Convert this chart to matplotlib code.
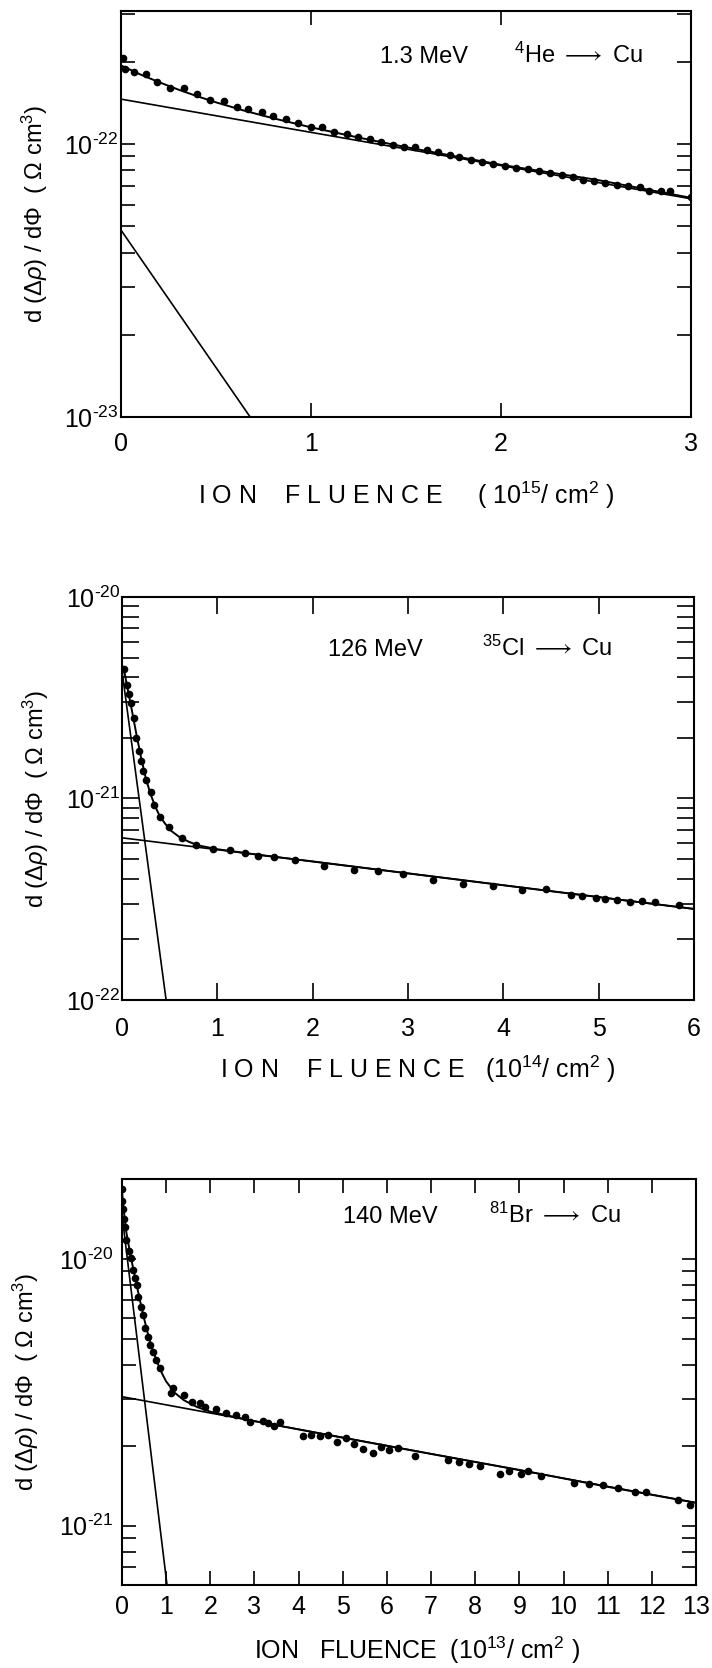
import math
import matplotlib
matplotlib.use("Agg")
import matplotlib.pyplot as plt
from matplotlib import font_manager
from matplotlib.ticker import FixedLocator, FuncFormatter, LogLocator, NullFormatter

# ---- panel 1: 1.3 MeV 4He -> Cu, fluence in 1e15 / cm^2, values in 1e-23 Ohm cm^3
HE_UNIT = 1e-23
he_x = [0.01, 0.02, 0.07, 0.13, 0.19, 0.26, 0.33, 0.40, 0.47, 0.54,
        0.61, 0.67, 0.74, 0.80, 0.87, 0.93, 1.00, 1.06, 1.12, 1.19,
        1.25, 1.31, 1.37, 1.43, 1.49, 1.55, 1.61, 1.67, 1.73, 1.78,
        1.84, 1.90, 1.96, 2.02, 2.08, 2.14, 2.20, 2.26, 2.32, 2.38,
        2.43, 2.49, 2.55, 2.61, 2.67, 2.73, 2.78, 2.84, 2.89, 3.00]
he_y = [20.6, 18.9, 18.4, 18.1, 16.9, 16.1, 16.0, 15.3, 14.5, 14.4,
        13.7, 13.4, 13.1, 12.7, 12.3, 11.9, 11.5, 11.5, 11.1, 10.9,
        10.6, 10.4, 10.2, 9.94, 9.78, 9.72, 9.53, 9.33, 9.15, 8.99,
        8.74, 8.57, 8.45, 8.28, 8.17, 8.11, 7.94, 7.81, 7.73, 7.55,
        7.38, 7.34, 7.18, 7.10, 7.04, 6.98, 6.71, 6.71, 6.71, 6.38]
he_fit_x = [0.0, 0.1, 0.2, 0.3, 0.4, 0.5, 0.65, 0.8, 1.0, 1.25, 1.5, 2.0, 2.5, 3.0]
he_fit_y = [19.4, 18.0, 16.85, 15.84, 14.97, 14.21, 13.24, 12.43, 11.51, 10.56, 9.74, 8.39, 7.40, 6.35]
he_slow_x = [0.0, 3.0]
he_slow_y = [14.6, 6.3]
he_fast_x = [0.0, 0.68]
he_fast_y = [4.84, 1.0]
he_decades = [1e-23, 1e-22]

# ---- panel 2: 126 MeV 35Cl -> Cu, fluence in 1e14 / cm^2, values in 1e-22 Ohm cm^3
CL_UNIT = 1e-22
cl_x = [0.02, 0.05, 0.07, 0.10, 0.13, 0.15, 0.18, 0.20, 0.22, 0.25,
        0.30, 0.34, 0.40, 0.49, 0.63, 0.78, 0.96, 1.13, 1.29, 1.43,
        1.59, 1.82, 2.12, 2.43, 2.69, 2.95, 3.26, 3.58, 3.89, 4.20,
        4.45, 4.71, 4.83, 4.97, 5.07, 5.19, 5.33, 5.45, 5.59, 5.84]
cl_y = [43.9, 36.6, 33.1, 29.7, 25.2, 19.9, 17.3, 15.4, 13.7, 12.4,
        10.8, 9.26, 8.07, 7.18, 6.34, 5.90, 5.61, 5.57, 5.36, 5.19,
        5.15, 4.94, 4.63, 4.40, 4.35, 4.20, 3.94, 3.76, 3.69, 3.52,
        3.55, 3.31, 3.28, 3.22, 3.18, 3.13, 3.05, 3.09, 3.05, 2.97]
cl_fit_x = [0.015, 0.05, 0.1, 0.15, 0.2, 0.25, 0.3, 0.35, 0.4, 0.5,
            0.6, 0.7, 0.8, 1.0, 1.5, 2.0, 3.0, 4.0, 5.0, 6.0]
cl_fit_y = [45.0, 37.0, 28.0, 21.0, 16.0, 12.6, 10.5, 9.1, 8.1, 7.0,
            6.45, 6.1, 5.85, 5.6, 5.2, 4.87, 4.25, 3.71, 3.24, 2.83]
cl_slow_x = [0.0, 6.0]
cl_slow_y = [6.38, 2.83]
cl_fast_x = [0.0, 0.463]
cl_fast_y = [43.1, 1.0]
cl_decades = [1e-22, 1e-21, 1e-20]

# ---- panel 3: 140 MeV 81Br -> Cu, fluence in 1e13 / cm^2, values in 1e-21 Ohm cm^3
BR_UNIT = 1e-21
br_x = [0.0, 0.0, 0.02, 0.05, 0.06, 0.10, 0.17, 0.21, 0.26, 0.30,
        0.33, 0.36, 0.42, 0.48, 0.53, 0.59, 0.64, 0.70, 0.78, 0.87,
        1.10, 1.16, 1.40, 1.59, 1.76, 1.89, 2.14, 2.36, 2.59, 2.78,
        2.91, 3.19, 3.31, 3.44, 3.59, 4.10, 4.29, 4.48, 4.67, 4.88,
        5.08, 5.25, 5.46, 5.69, 5.87, 6.04, 6.25, 6.63, 7.38, 7.64,
        7.85, 8.10, 8.57, 8.77, 9.03, 9.19, 9.50, 10.24, 10.58, 10.89,
        11.23, 11.61, 11.86, 12.59, 12.87]
br_y = [18.3, 16.6, 15.4, 14.2, 13.2, 11.8, 10.7, 10.1, 9.11, 8.48,
        8.01, 7.24, 6.64, 6.18, 5.51, 5.12, 4.77, 4.50, 4.19, 3.90,
        3.16, 3.28, 3.10, 2.92, 2.88, 2.79, 2.74, 2.64, 2.60, 2.57,
        2.46, 2.48, 2.43, 2.36, 2.45, 2.17, 2.19, 2.17, 2.20, 2.06,
        2.14, 2.03, 1.94, 1.87, 1.98, 1.93, 1.96, 1.83, 1.77, 1.74,
        1.71, 1.67, 1.57, 1.60, 1.57, 1.60, 1.54, 1.45, 1.44, 1.42,
        1.38, 1.34, 1.34, 1.25, 1.20]
br_fit_x = [0.0, 0.05, 0.1, 0.2, 0.3, 0.4, 0.5, 0.6, 0.7, 0.8, 0.9, 1.0,
            1.2, 1.4, 1.7, 2.0, 2.5, 3.0, 5.0, 7.0, 9.0, 11.0, 13.0]
br_fit_y = [18.0, 14.8, 12.6, 10.2, 8.5, 7.1, 6.0, 5.15, 4.55, 4.1, 3.75, 3.48,
            3.15, 2.96, 2.79, 2.68, 2.57, 2.47, 2.14, 1.86, 1.62, 1.40, 1.22]
br_slow_x = [0.0, 13.0]
br_slow_y = [3.05, 1.22]
br_fast_x = [0.0, 1.02]
br_fast_y = [14.7, 0.6]
br_decades = [1e-21, 1e-20]

# ---- fonts
names = {f.name for f in font_manager.fontManager.ttflist}
FAMILY = "Liberation Sans" if "Liberation Sans" in names else "DejaVu Sans"
plt.rcParams["font.family"] = [FAMILY, "DejaVu Sans"]
plt.rcParams["mathtext.fontset"] = "custom"
plt.rcParams["mathtext.rm"] = FAMILY
plt.rcParams["mathtext.it"] = FAMILY + ":italic"
plt.rcParams["mathtext.bf"] = FAMILY + ":bold"
plt.rcParams["mathtext.fallback"] = "stixsans"


def decade_label(value, pos):
    # short hyphen in the exponent, as on the original plot
    return "$10^{\u2010%d}$" % abs(round(math.log10(value)))


def draw_panel(ax, unit, xs, ys, fit_x, fit_y, slow_x, slow_y, fast_x, fast_y,
               decades, xmax, ylim, energy, reaction, text_pos, xlabel, xlabel_pos,
               ylabel_x, xpad, ypad, ticklen):
    scale = lambda vals: [v * unit for v in vals]
    ax.plot(slow_x, scale(slow_y), color="black", lw=1.2)
    ax.plot(fast_x, scale(fast_y), color="black", lw=1.2)
    ax.plot(fit_x, scale(fit_y), color="black", lw=1.4)
    ax.plot(xs, scale(ys), "o", color="black", ms=4.5, zorder=3)

    ax.set_yscale("log")
    ax.set_xlim(0, xmax)
    ax.set_ylim(*ylim)
    ax.set_xticks(range(0, xmax + 1))
    ax.yaxis.set_major_locator(FixedLocator(decades))
    ax.yaxis.set_minor_locator(LogLocator(base=10, subs=range(2, 10)))
    ax.yaxis.set_major_formatter(FuncFormatter(decade_label))
    ax.yaxis.set_minor_formatter(NullFormatter())

    ax.tick_params(which="both", direction="in", top=True, right=True,
                   width=1.2, length=ticklen)
    ax.tick_params(axis="x", labelsize=18, pad=xpad)
    ax.tick_params(axis="y", labelsize=18, pad=ypad)
    for spine in ax.spines.values():
        spine.set_linewidth(1.5)

    ax.text(text_pos[0], text_pos[2], energy, transform=ax.transAxes,
            fontsize=17, va="baseline")
    ax.text(text_pos[1], text_pos[2], reaction, transform=ax.transAxes,
            fontsize=17, va="baseline")

    ax.set_xlabel(xlabel, fontsize=18, va="center")
    ax.xaxis.set_label_coords(*xlabel_pos)
    ax.set_ylabel(r"d ($\Delta\rho$) / d$\Phi$  ( $\Omega$ cm$^3$)", fontsize=17,
                  va="center")
    ax.yaxis.set_label_coords(ylabel_x, 0.5)


fig = plt.figure(figsize=(7.12, 16.68), dpi=100)
ax1 = fig.add_axes([0.1699, 0.7500, 0.8006, 0.2434])
ax2 = fig.add_axes([0.1713, 0.4005, 0.8034, 0.2416])
ax3 = fig.add_axes([0.1713, 0.0498, 0.8062, 0.2434])

draw_panel(ax1, HE_UNIT, he_x, he_y, he_fit_x, he_fit_y, he_slow_x, he_slow_y,
           he_fast_x, he_fast_y, he_decades, 3, (1e-23, 3.07e-22),
           "1.3 MeV", r"$^{4}$He $\longrightarrow$ Cu", (0.455, 0.69, 0.872),
           r"I O N    F L U E N C E     ( 10$^{15}$/ cm$^{2}$ )", (0.5, -0.192),
           -0.151, 11, 2, 10)
draw_panel(ax2, CL_UNIT, cl_x, cl_y, cl_fit_x, cl_fit_y, cl_slow_x, cl_slow_y,
           cl_fast_x, cl_fast_y, cl_decades, 6, (1e-22, 1e-20),
           "126 MeV", r"$^{35}$Cl $\longrightarrow$ Cu", (0.36, 0.63, 0.854),
           r"I O N    F L U E N C E   (10$^{14}$/ cm$^{2}$ )", (0.517, -0.171),
           -0.151, 12, 1, 12)
draw_panel(ax3, BR_UNIT, br_x, br_y, br_fit_x, br_fit_y, br_slow_x, br_slow_y,
           br_fast_x, br_fast_y, br_decades, 13, (6e-22, 2e-20),
           "140 MeV", r"$^{81}$Br $\longrightarrow$ Cu", (0.385, 0.64, 0.892),
           r"ION   FLUENCE  (10$^{13}$/ cm$^{2}$ )", (0.514, -0.162),
           -0.167, 7, 6, 10)

fig.savefig("out.png", dpi=100)
